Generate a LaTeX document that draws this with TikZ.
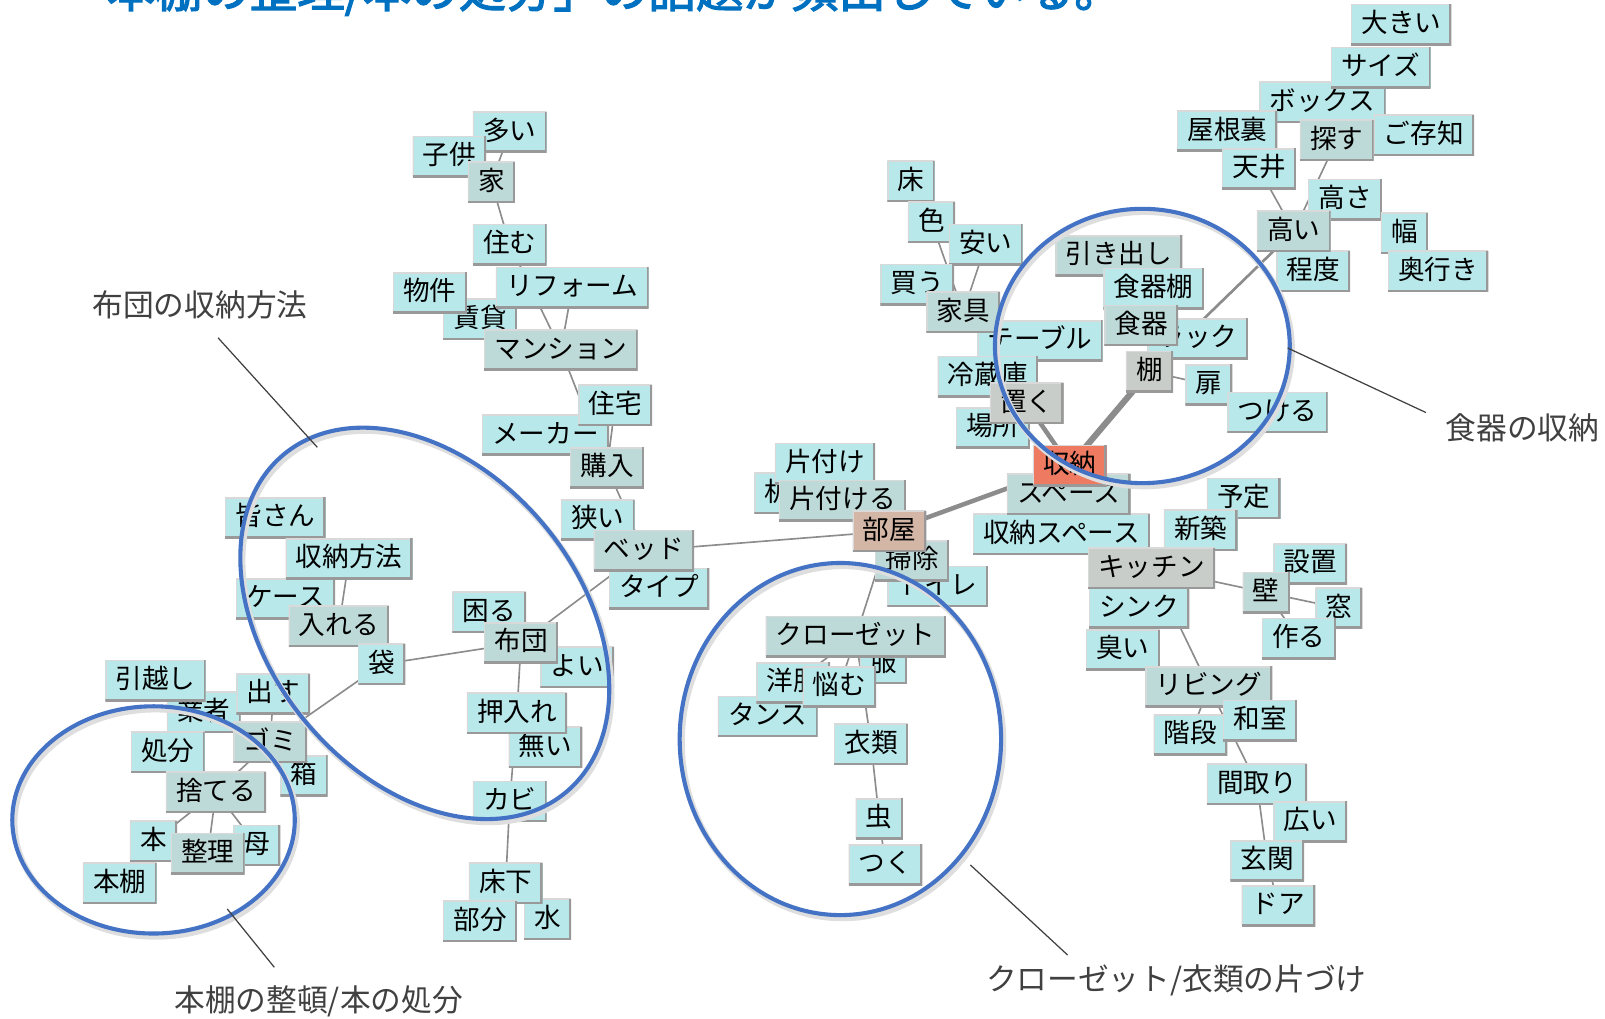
\documentclass[tikz,border=0pt]{standalone}
\usepackage{fontspec}
\setmainfont{Noto Sans CJK JP}
\newfontfamily\titlefont[FakeBold=2.5]{Noto Sans CJK JP}
\pgfdeclarelayer{bg}
\pgfsetlayers{bg,main}
\definecolor{leafc}{HTML}{B8E8EA}
\definecolor{hubc}{HTML}{BEDAD8}
\definecolor{grayc}{HTML}{C8CDC9}
\definecolor{roomc}{HTML}{D4B6A6}
\definecolor{mainc}{HTML}{EE7A62}
\definecolor{connc}{HTML}{8C8C8C}
\definecolor{ellc}{HTML}{4472C4}
\definecolor{titlec}{HTML}{0070C0}
\definecolor{annoc}{HTML}{404040}
\newcommand\bxfont{\fontsize{13}{15}\selectfont}
\tikzset{
  wbox/.style={font=\bxfont, text height=10.4pt, text depth=2.6pt, inner xsep=5pt, inner ysep=3.5pt,
    path picture={
      \draw[white!85!black, line width=1.2pt] (path picture bounding box.south west) -- (path picture bounding box.north west) -- (path picture bounding box.north east);
      \draw[black!40, line width=2pt] (path picture bounding box.north east) -- (path picture bounding box.south east) -- (path picture bounding box.south west);
    }},
  leaf/.style={wbox, fill=leafc},
  hub/.style={wbox, fill=hubc},
  grayhub/.style={wbox, fill=grayc},
  roomnode/.style={wbox, fill=roomc},
  mainnode/.style={wbox, fill=mainc},
  conn/.style={draw=connc, line width=0.8pt},
  connmid/.style={draw=connc, line width=1.3pt},
  connthick/.style={draw=connc, line width=2.2pt},
  connheavy/.style={draw=connc, line width=3pt},
  ell/.style={draw=ellc, line width=2pt},
  ellshadow/.style={draw=black!13, line width=3pt},
  anno/.style={font=\fontsize{15}{18}\selectfont, text=annoc, inner sep=0pt},
  annoline/.style={draw=annoc, line width=0.6pt},
}
\begin{document}
\begin{tikzpicture}[x=0.5pt,y=-0.5pt]
\begin{pgfonlayer}{bg}
\fill[white] (0,0) rectangle (1568,995);
\end{pgfonlayer}
\useasboundingbox (0,0) rectangle (1568,995);

% title (cut at the top)
\node[anchor=base west, font=\titlefont\fontsize{23.2}{27}\selectfont, text=titlec, inner sep=0pt] (title) at (58,7) {「本棚の整理/本の処分」の話題が頻出している。};

% top-left cluster
\node[leaf] (tai) at (498,129) {多い};
\node[leaf] (kodomo) at (439,153) {子供};
\node[hub] (ie) at (480,178) {家};
\node[leaf] (sumu) at (498,239) {住む};
\node[leaf] (chintai) at (469,312) {賃貸};
\node[leaf] (bukken) at (420,286) {物件};
\node[leaf] (reform) at (559,281) {リフォーム};
\node[hub] (mansion) at (548,342) {マンション};
\node[leaf] (maker) at (533,425) {メーカー};
\node[leaf] (jutaku) at (601,396) {住宅};
\node[hub] (konyu) at (593,457) {購入};
\node[leaf] (semai) at (584,508) {狭い};
\node[leaf] (type) at (644,575) {タイプ};
\node[hub] (bed) at (629,538) {ベッド};

% left cluster
\node[leaf] (minasan) at (269,506) {皆さん};
\node[leaf] (case) at (279,585) {ケース};
\node[leaf] (houhou) at (341,546) {収納方法};
\node[hub] (ireru) at (331,612) {入れる};
\node[leaf] (fukuro) at (373,649) {袋};
\node[leaf] (komaru) at (478,598) {困る};
\node[leaf] (yoi) at (564,652) {よい};
\node[hub] (futon) at (509,628) {布団};
\node[leaf] (mui) at (533,730) {無い};
\node[leaf] (oshiire) at (505,697) {押入れ};
\node[leaf] (kabi) at (498,783) {カビ};
\node[leaf] (mizu) at (535,898) {水};
\node[leaf] (yukashita) at (494,863) {床下};
\node[leaf] (bubun) at (469,900) {部分};

% bottom-left cluster
\node[leaf] (gyosha) at (199,696) {業者};
\node[leaf] (hikkoshi) at (152,665) {引越し};
\node[leaf] (dasu) at (267,678) {出す};
\node[leaf] (hako) at (297,758) {箱};
\node[hub] (gomi) at (264,725) {ゴミ};
\node[leaf] (shobun) at (164,735) {処分};
\node[hub] (suteru) at (211,774) {捨てる};
\node[leaf] (hon) at (150,822) {本};
\node[leaf] (haha) at (251,826) {母};
\node[hub] (seiri) at (203,834) {整理};
\node[leaf] (hondana) at (117,863) {本棚};

% centre
\node[leaf] (tsukue) at (760,482) {机};
\node[leaf] (katazuke) at (806,453) {片付け};
\node[hub] (katazukeru) at (823,489) {片付ける};
\node[leaf] (toilet) at (916,573) {トイレ};
\node[hub] (soji) at (891,548) {掃除};
\node[roomnode] (heya) at (869,519) {部屋};
\node[leaf] (fuku) at (863,648) {服};
\node[hub] (closet) at (836,622) {クローゼット};
\node[leaf] (tansu) at (750,700) {タンス};
\node[leaf] (yofuku) at (775,667) {洋服};
\node[leaf] (nayamu) at (820,671) {悩む};
\node[leaf] (irui) at (851,727) {衣類};
\node[leaf] (mushi) at (859,800) {虫};
\node[leaf] (tsuku) at (865,845) {つく};

% right-middle cluster
\node[leaf] (yuka) at (890,177) {床};
\node[leaf] (iro) at (910,217) {色};
\node[leaf] (yasui) at (963,239) {安い};
\node[leaf] (kau) at (896,278) {買う};
\node[leaf] (table) at (1016,333) {テーブル};
\node[hub] (kagu) at (941,305) {家具};
\node[leaf] (reizoko) at (965,368) {冷蔵庫};
\node[leaf] (basho) at (970,418) {場所};
\node[grayhub] (oku) at (1003,394) {置く};
\node[hub] (hikidashi) at (1093,250) {引き出し};
\node[leaf] (shokkidana) at (1127,282) {食器棚};
\node[leaf] (rack) at (1170,331) {ラック};
\node[hub] (shokki) at (1115,318) {食器};
\node[leaf] (tobira) at (1181,376) {扉};
\node[leaf] (tsukeru) at (1248,403) {つける};
\node[grayhub] (tana) at (1123,363) {棚};
\node[leaf] (shunospace) at (1037,522) {収納スペース};
\node[hub] (space) at (1044,483) {スペース};
\node[mainnode] (shuno) at (1045,455) {収納};
\node[leaf] (yotei) at (1215,487) {予定};
\node[leaf] (shinchiku) at (1173,518) {新築};
\node[leaf] (shink) at (1113,594) {シンク};
\node[grayhub] (kitchen) at (1125,555) {キッチン};
\node[leaf] (settchi) at (1280,551) {設置};
\node[leaf] (mado) at (1308,594) {窓};
\node[hub] (kabe) at (1237,579) {壁};
\node[leaf] (tsukuru) at (1269,624) {作る};
\node[leaf] (kusai) at (1097,635) {臭い};
\node[hub] (living) at (1181,671) {リビング};
\node[leaf] (kaidan) at (1163,718) {階段};
\node[leaf] (washitsu) at (1231,704) {和室};
\node[leaf] (madori) at (1228,766) {間取り};
\node[leaf] (hiroi) at (1280,803) {広い};
\node[leaf] (genkan) at (1238,841) {玄関};
\node[leaf] (door) at (1249,885) {ドア};

% top-right cluster
\node[leaf] (ookii) at (1369,24) {大きい};
\node[leaf] (boxn) at (1292,100) {ボックス};
\node[leaf] (size) at (1349,66) {サイズ};
\node[leaf] (yaneura) at (1199,128) {屋根裏};
\node[leaf] (gozonji) at (1391,132) {ご存知};
\node[hub] (sagasu) at (1306,137) {探す};
\node[leaf] (tenjo) at (1230,165) {天井};
\node[leaf] (takasa) at (1314,195) {高さ};
\node[leaf] (teido) at (1283,265) {程度};
\node[hub] (takai) at (1264,226) {高い};
\node[leaf] (haba) at (1372,228) {幅};
\node[leaf] (okuyuki) at (1405,265) {奥行き};

% connectors
\begin{pgfonlayer}{bg}
\draw[conn] (tai.center) -- (ie.center);
\draw[conn] (ie.center) -- (sumu.center);
\draw[conn] (sumu.center) -- (mansion.center);
\draw[conn] (reform.center) -- (mansion.center);
\draw[conn] (mansion.center) -- (konyu.center);
\draw[conn] (jutaku.center) -- (konyu.center);
\draw[conn] (konyu.center) -- (bed.center);
\draw[conn] (bed.center) -- (futon.center);
\draw[conn] (bed.center) -- (heya.center);
\draw[conn] (futon.center) -- (fukuro.center);
\draw[conn] (fukuro.center) -- (gomi.center);
\draw[conn] (dasu.center) -- (gomi.center);
\draw[conn] (gomi.center) -- (suteru.center);
\draw[conn] (suteru.center) -- (hon.center);
\draw[conn] (suteru.center) -- (seiri.center);
\draw[conn] (suteru.center) -- (haha.center);
\draw[conn] (houhou.center) -- (ireru.center);
\draw[conn] (futon.center) -- (oshiire.center);
\draw[conn] (oshiire.center) -- (kabi.center);
\draw[conn] (kabi.center) -- (yukashita.center);
\draw[connthick] (heya.center) -- (shuno.center);
\draw[connheavy] (shuno.center) -- (tana.center);
\draw[connthick] (shuno.center) -- (oku.center);
\draw[connmid] (tana.center) -- (takai.center);
\draw[conn] (tana.center) -- (tobira.center);
\draw[conn] (heya.center) -- (closet.center);
\draw[conn] (closet.center) -- (nayamu.center);
\draw[conn] (closet.center) -- (yofuku.center);
\draw[conn] (closet.center) -- (irui.center);
\draw[conn] (irui.center) -- (mushi.center);
\draw[conn] (mushi.center) -- (tsuku.center);
\draw[conn] (iro.center) -- (kagu.center);
\draw[conn] (yasui.center) -- (kagu.center);
\draw[conn] (tenjo.center) -- (takai.center);
\draw[conn] (sagasu.center) -- (takai.center);
\draw[conn] (kitchen.center) -- (kabe.center);
\draw[conn] (kabe.center) -- (mado.center);
\draw[conn] (kabe.center) -- (tsukuru.center);
\draw[conn] (kitchen.center) -- (living.center);
\draw[conn] (living.center) -- (kaidan.center);
\draw[conn] (living.center) -- (washitsu.center);
\draw[conn] (living.center) -- (madori.center);
\draw[conn] (madori.center) -- (genkan.center);
\draw[conn] (genkan.center) -- (door.center);
\end{pgfonlayer}

% blue ellipses
\draw[ellshadow, rotate around={-50:(417,612)}] (417,612) ellipse [x radius=215, y radius=151];
\draw[ell, rotate around={-50:(415,609)}] (415,609) ellipse [x radius=215, y radius=151];
\draw[ellshadow] (152,804) ellipse [x radius=138, y radius=111];
\draw[ell] (150,801) ellipse [x radius=138, y radius=111];
\draw[ellshadow] (823,725) ellipse [x radius=157, y radius=172];
\draw[ell] (821,722) ellipse [x radius=157, y radius=172];
\draw[ellshadow] (1118,341) ellipse [x radius=144, y radius=134];
\draw[ell] (1116,338) ellipse [x radius=144, y radius=134];

% annotations
\node[anno, anchor=west] (lab1) at (90,298) {布団の収納方法};
\node[anno, anchor=west] (lab2) at (170,978) {本棚の整頓/本の処分};
\node[anno, anchor=west] (lab3) at (963,958) {クローゼット/衣類の片づけ};
\node[anno, anchor=west] (lab4) at (1412,418) {食器の収納};
\coordinate (l1a) at (213,330); \coordinate (l1b) at (310,437);
\coordinate (l2a) at (222,888); \coordinate (l2b) at (268,945);
\coordinate (l3a) at (948,845); \coordinate (l3b) at (1043,933);
\coordinate (l4a) at (1258,340); \coordinate (l4b) at (1393,403);
\draw[annoline] (l1a) -- (l1b);
\draw[annoline] (l2a) -- (l2b);
\draw[annoline] (l3a) -- (l3b);
\draw[annoline] (l4a) -- (l4b);
\end{tikzpicture}
\end{document}
